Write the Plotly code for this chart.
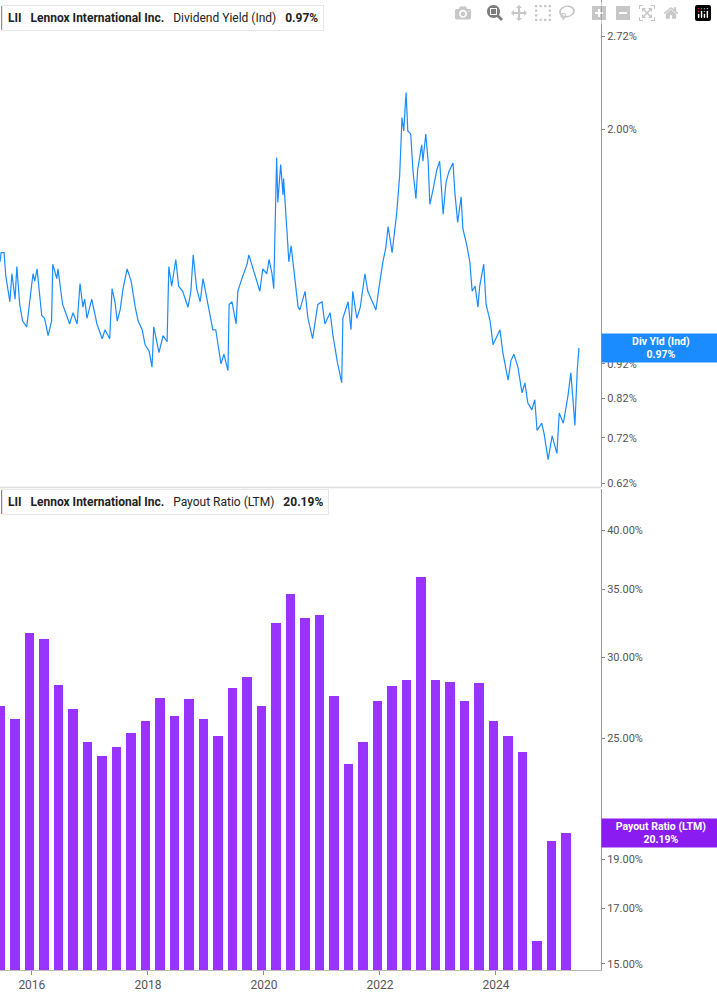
import plotly.graph_objects as go
import pandas as pd
import numpy as np

# Dividend yield (%) vs decimal year
yld_year = [2015.45,2015.47,2015.52,2015.55,2015.62,2015.655,2015.71,2015.74,2015.79,2015.84,2015.91,2015.97,2016.02,2016.05,2016.09,2016.17,2016.22,2016.28,2016.34,2016.36,2016.43,2016.45,2016.53,2016.60,2016.65,2016.71,2016.78,2016.83,2016.88,2016.91,2016.95,2017.03,2017.12,2017.21,2017.26,2017.34,2017.38,2017.43,2017.47,2017.52,2017.57,2017.64,2017.71,2017.78,2017.83,2017.90,2017.95,2018.02,2018.07,2018.10,2018.16,2018.19,2018.26,2018.33,2018.36,2018.41,2018.48,2018.53,2018.60,2018.69,2018.74,2018.78,2018.84,2018.90,2018.95,2019.03,2019.12,2019.17,2019.26,2019.31,2019.38,2019.40,2019.45,2019.52,2019.55,2019.62,2019.71,2019.74,2019.81,2019.88,2019.93,2019.98,2020.05,2020.09,2020.14,2020.17,2020.19,2020.22,2020.24,2020.29,2020.33,2020.34,2020.40,2020.43,2020.47,2020.53,2020.59,
 2020.62,2020.71,2020.76,2020.84,2020.93,2021.00,2021.05,2021.14,2021.19,2021.26,2021.34,2021.36,2021.45,2021.50,2021.53,2021.60,2021.66,2021.74,2021.79,2021.88,2021.93,2021.98,2022.05,2022.10,2022.14,2022.21,2022.29,2022.34,2022.38,2022.41,2022.45,2022.48,2022.53,2022.57,2022.62,2022.65,2022.72,2022.74,2022.79,2022.83,2022.86,2022.91,2022.98,2023.03,2023.09,2023.14,2023.19,2023.26,2023.29,2023.34,2023.40,2023.43,2023.50,2023.55,2023.59,2023.64,2023.69,2023.72,2023.79,2023.83,2023.90,2023.95,2024.02,2024.07,2024.12,2024.21,2024.26,2024.31,2024.38,2024.45,2024.50,2024.55,2024.62,2024.67,2024.71,2024.79,2024.83,2024.90,2024.97,2025.05,2025.09,2025.16,2025.24,2025.29,2025.34,2025.36,2025.40,2025.43]
yld_val = [1.29,1.33,1.33,1.23,1.13,1.24,1.14,1.27,1.12,1.06,1.04,1.14,1.24,1.21,1.26,1.08,1.07,1.01,1.06,1.28,1.22,1.26,1.12,1.08,1.05,1.09,1.05,1.20,1.11,1.14,1.07,1.14,1.05,1.00,1.03,1.00,1.18,1.13,1.06,1.10,1.18,1.26,1.21,1.11,1.06,1.03,0.98,0.96,0.91,1.04,0.98,0.955,1.01,0.99,1.27,1.19,1.30,1.19,1.17,1.11,1.17,1.32,1.18,1.13,1.22,1.12,1.03,1.03,0.92,0.95,0.90,1.12,1.13,1.05,1.17,1.22,1.28,1.32,1.26,1.21,1.17,1.26,1.24,1.30,1.24,1.18,1.45,1.82,1.57,1.78,1.61,1.70,1.42,1.29,1.36,1.24,1.11,
 1.10,1.17,1.07,1.00,1.12,1.13,1.05,1.09,1.01,0.93,0.864,1.07,1.13,1.03,1.17,1.07,1.11,1.24,1.17,1.12,1.10,1.18,1.29,1.35,1.45,1.33,1.52,1.72,2.08,1.99,2.26,1.99,1.97,1.74,1.59,1.75,1.90,1.80,1.97,1.80,1.56,1.63,1.75,1.80,1.51,1.68,1.74,1.79,1.63,1.47,1.60,1.44,1.36,1.29,1.17,1.19,1.11,1.19,1.28,1.12,1.06,0.98,1.01,1.03,0.955,0.872,0.93,0.95,0.91,0.836,0.864,0.809,0.79,0.817,0.738,0.756,0.731,0.67,0.725,0.684,0.782,0.756,0.827,0.893,0.79,0.75,0.90,0.97]

# Payout ratio (LTM, %) quarterly
payout_q = ["2015-06-30","2015-09-30","2015-12-31","2016-03-31","2016-06-30","2016-09-30","2016-12-31","2017-03-31","2017-06-30","2017-09-30","2017-12-31","2018-03-31","2018-06-30","2018-09-30","2018-12-31","2019-03-31","2019-06-30","2019-09-30","2019-12-31","2020-03-31","2020-06-30","2020-09-30","2020-12-31","2021-03-31","2021-06-30","2021-09-30","2021-12-31","2022-03-31","2022-06-30","2022-09-30","2022-12-31","2023-03-31","2023-06-30","2023-09-30","2023-12-31","2024-03-31","2024-06-30","2024-09-30","2024-12-31","2025-03-31"]
payout_val = [26.9,26.1,31.7,31.3,28.2,26.7,24.8,24.0,24.5,25.3,26.0,27.4,26.3,27.3,26.1,25.1,28.0,28.7,26.9,32.4,34.6,32.8,33.0,27.5,23.6,24.8,27.2,28.1,28.5,36.0,28.5,28.4,27.2,28.3,26.0,25.1,24.2,15.8,19.8,20.19]

top_ticks = [0.62,0.72,0.82,0.92,1.00,2.00,2.72]
bot_ticks = [15,17,19,25,30,35,40]

def dec_to_date(y):
    yr = int(np.floor(y)); frac = y - yr
    start = pd.Timestamp(year=yr, month=1, day=1)
    return start + pd.Timedelta(days=frac * 365.25)

yld_dates = [dec_to_date(v) for v in yld_year]
pay_dates = pd.to_datetime(payout_q) - pd.Timedelta(days=14)

BLUE = "#1a8cff"; PURP = "#9933ff"; PURP_D = "#8a1cf2"
FONT = "Roboto"

fig = go.Figure()
fig.add_trace(go.Scatter(x=yld_dates, y=yld_val, mode="lines",
                         line=dict(color=BLUE, width=1.2), xaxis="x", yaxis="y"))
fig.add_trace(go.Bar(x=pay_dates, y=payout_val, marker=dict(color=PURP, line=dict(width=0)),
                     width=60 * 86400000, xaxis="x2", yaxis="y2"))

xr = [dec_to_date(2015.45), dec_to_date(2025.81)]
axcommon = dict(showgrid=False, zeroline=False)
fig.update_layout(
    width=717, height=1005, margin=dict(l=0, r=116, t=0, b=0),
    paper_bgcolor="white", plot_bgcolor="white", showlegend=False, bargap=0,
    font=dict(family=FONT, color="#555", size=11),
    xaxis=dict(domain=[0, 1], anchor="y", range=xr, showticklabels=False, matches="x2", **axcommon),
    xaxis2=dict(domain=[0, 1], anchor="y2", range=xr, tickformat="%Y",
                tickvals=[f"{y}-01-01" for y in range(2016, 2025, 2)],
                ticks="outside", ticklen=4, tickcolor="#888", showline=True, linecolor="#bbb",
                tickfont=dict(size=12, color="#555", family=FONT), **axcommon),
    yaxis=dict(domain=[0.514, 1], type="log", side="right", range=[np.log10(0.612), np.log10(3.07)],
               tickvals=top_ticks, ticktext=[f"{v:.2f}%" for v in top_ticks],
               ticks="outside", ticklen=3, tickcolor="#888", showline=True, linecolor="#999",
               tickfont=dict(size=11, color="#555"), **axcommon),
    yaxis2=dict(domain=[0.032, 0.512], type="log", side="right", range=[np.log10(14.8), np.log10(43.9)],
                tickvals=bot_ticks, ticktext=[f"{v:.2f}%" for v in bot_ticks],
                ticks="outside", ticklen=3, tickcolor="#888", showline=True, linecolor="#999",
                tickfont=dict(size=11, color="#555"), **axcommon),
)
fig.add_shape(type="line", xref="paper", yref="paper", x0=0, x1=1, y0=0.5135, y1=0.5135,
              line=dict(color="#ddd", width=1.5))

def legend_box(y_top, text, color):
    fig.add_annotation(xref="paper", yref="paper", x=0.003, y=y_top, xanchor="left", yanchor="top",
                       text=text, showarrow=False, align="left",
                       font=dict(family=FONT, size=12, color="#222"),
                       bgcolor="white", bordercolor="#e6e6e6", borderwidth=1, borderpad=5)
    fig.add_shape(type="rect", xref="paper", yref="paper", x0=0.002, x1=0.007,
                  y0=y_top - 0.025, y1=y_top - 0.001, fillcolor=color, line=dict(width=0))

legend_box(0.995, "<b>LII</b>   <b>Lennox International Inc.</b>   Dividend Yield (Ind)   <b>0.97%</b>", BLUE)
legend_box(0.512, "<b>LII</b>   <b>Lennox International Inc.</b>   Payout Ratio (LTM)   <b>20.19%</b>", PURP)

def value_tag(yref, yval, label, color):
    fig.add_annotation(xref="paper", yref=yref, x=1.0, y=yval, xanchor="left", yanchor="middle",
                       text=label, showarrow=False, width=114, height=24, align="center",
                       font=dict(family=FONT, size=10.5, color="white"), bgcolor=color, borderpad=2)

value_tag("y", np.log10(yld_val[-1]), "<b>Div Yld (Ind)<br>0.97%</b>", BLUE)
value_tag("y2", np.log10(payout_val[-1]), "<b>Payout Ratio (LTM)<br>20.19%</b>", PURP_D)

fig.write_html("out.html")
with open("out.html", encoding="utf-8") as f:
    html = f.read()
html = html.replace("<body>", '<body style="margin:0;padding:0">', 1)
with open("out.html", "w", encoding="utf-8") as f:
    f.write(html)
